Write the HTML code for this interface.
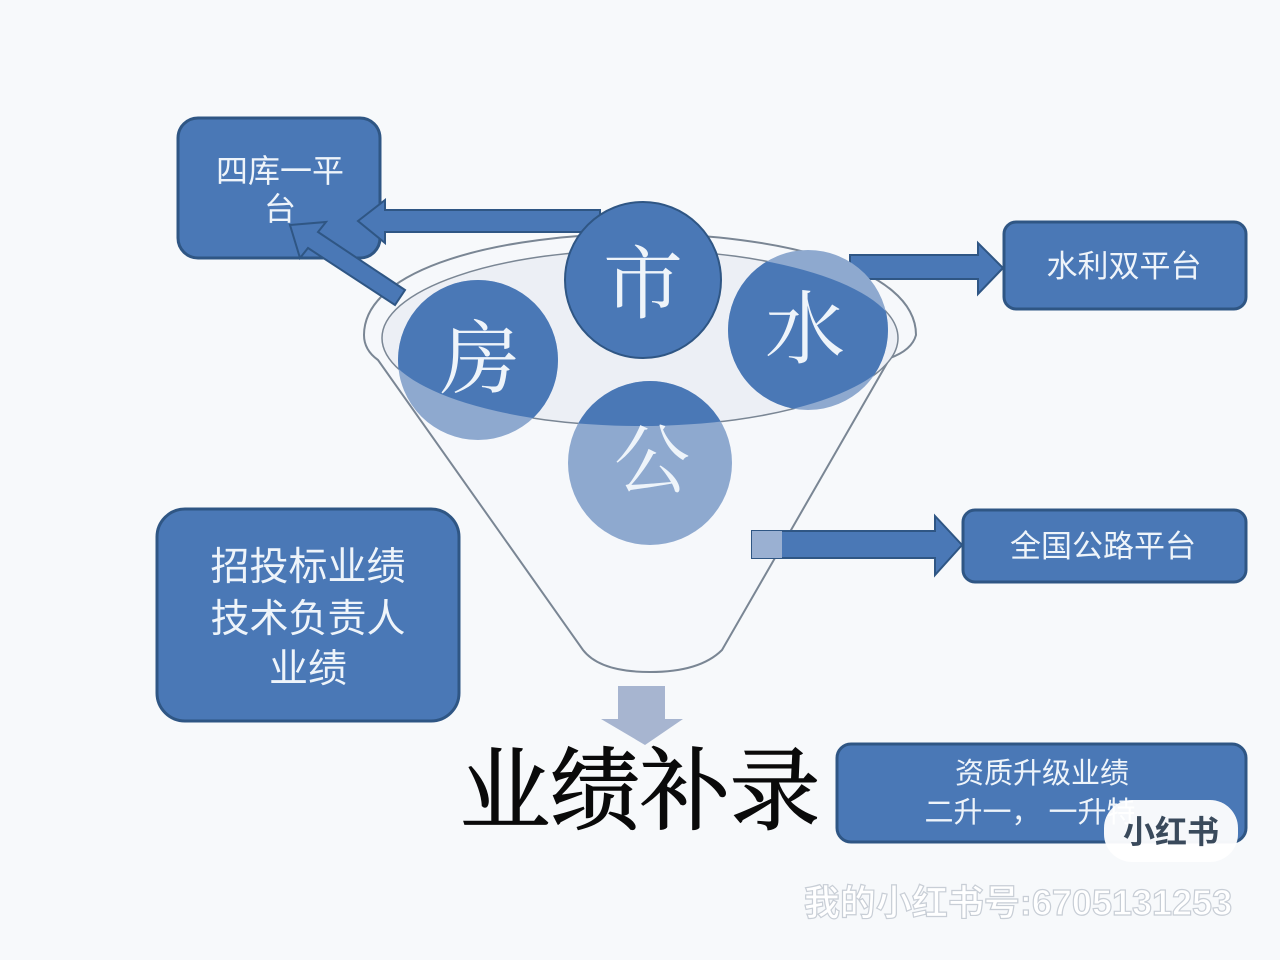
<!DOCTYPE html>
<html><head><meta charset="utf-8"><style>
html,body{margin:0;padding:0;background:#f7f9fb;}
svg{display:block}
.t{font-family:"Liberation Sans","Noto Sans CJK SC",sans-serif;fill:#eef4fa}
.c{font-family:"Liberation Serif","Noto Serif CJK SC",serif;fill:#eef4fa}
</style></head><body>
<svg width="1280" height="960" viewBox="0 0 1280 960" xmlns="http://www.w3.org/2000/svg">
<defs>
<clipPath id="ell"><ellipse cx="640" cy="338" rx="258" ry="88"/></clipPath>
</defs>
<rect width="1280" height="960" fill="#f7f9fb"/>
<g fill="#4a78b6" stroke="#2f5684" stroke-width="3">
<rect x="178" y="118" width="202" height="140" rx="20"/>
<rect x="1004" y="222" width="242" height="87" rx="12"/>
<rect x="963" y="510" width="283" height="72" rx="12"/>
<rect x="157" y="509" width="302" height="212" rx="28"/>
<rect x="837" y="744" width="409" height="98" rx="14"/>
</g>
<!-- funnel -->
<path d="M364,335 C364,200 916,200 916,335 Q912,350 890,358 L722,650 Q700,672 650,672 Q600,672 583,650 L378,360 Q364,350 364,335 Z" fill="#f6f8fb" stroke="#7a8694" stroke-width="2"/>
<ellipse cx="640" cy="338" rx="258" ry="88" fill="#eceff5" stroke="#7a8694" stroke-width="1.5"/>
<!-- arrows -->
<g fill="#4a78b6" stroke="#2f5684" stroke-width="2">
<polygon points="600,210 385,210 385,200 358,221 385,243 385,232 600,232"/>
<polygon points="405,290 318,232 326,222 290,225 300,258 308,248 395,305"/>
<polygon points="850,255 978,255 978,243 1003,268 978,294 978,279 850,279"/>
<polygon points="752,531 935,531 935,516 962,545 935,575 935,558 752,558"/>
</g>
<rect x="752" y="531" width="30" height="27" fill="#9ab0d2"/>
<polygon points="618,686 665,686 665,719 683,719 645,745 601,719 618,719" fill="#a7b5d0"/>
<!-- circles -->
<g fill="#8ea9cf">
<circle cx="650" cy="463" r="82"/>
<circle cx="478" cy="360" r="80"/>
<circle cx="808" cy="330" r="80"/>
</g>
<g fill="#4a78b6" clip-path="url(#ell)">
<circle cx="650" cy="463" r="82"/>
<circle cx="478" cy="360" r="80"/>
<circle cx="808" cy="330" r="80"/>
</g>
<circle cx="643" cy="280" r="78" fill="#4a78b6" stroke="#2f5684" stroke-width="2"/>
<g class="c" text-anchor="middle">
<text x="643" y="312" font-size="80">市</text>
<text x="480" y="387" font-size="80">房</text>
<text x="805" y="357" font-size="80">水</text>
<text x="652" y="487" font-size="76">公</text>
</g>
<g class="t" text-anchor="middle">
<text x="280" y="182" font-size="32">四库一平</text>
<text x="280" y="220" font-size="32">台</text>
<text x="1124" y="277" font-size="31">水利双平台</text>
<text x="1103" y="557" font-size="31">全国公路平台</text>
<text x="308" y="580" font-size="39">招投标业绩</text>
<text x="308" y="632" font-size="39">技术负责人</text>
<text x="308" y="682" font-size="39">业绩</text>
<text x="1042" y="783" font-size="29">资质升级业绩</text>
<text x="1030" y="822" font-size="29">二升一， 一升特</text>
</g>
<text x="640" y="822" text-anchor="middle" font-size="90" font-family="'Liberation Serif','Noto Serif CJK SC',serif" fill="#0a0a0a" stroke="#0a0a0a" stroke-width="1.5">业绩补录</text>
<rect x="1104" y="800" width="134" height="62" rx="28" fill="#ffffff" opacity="0.95"/>
<text x="1171" y="843" text-anchor="middle" font-size="32" font-weight="bold" font-family="'Noto Sans CJK SC',sans-serif" fill="#3a4a5c">小红书</text>
<text x="1018" y="915" text-anchor="middle" font-size="36" font-weight="bold" font-family="'Liberation Sans','Noto Sans CJK SC',sans-serif" fill="#ffffff" stroke="#c8ced6" stroke-width="1.2">我的小红书号:6705131253</text>
</svg>
</body></html>
